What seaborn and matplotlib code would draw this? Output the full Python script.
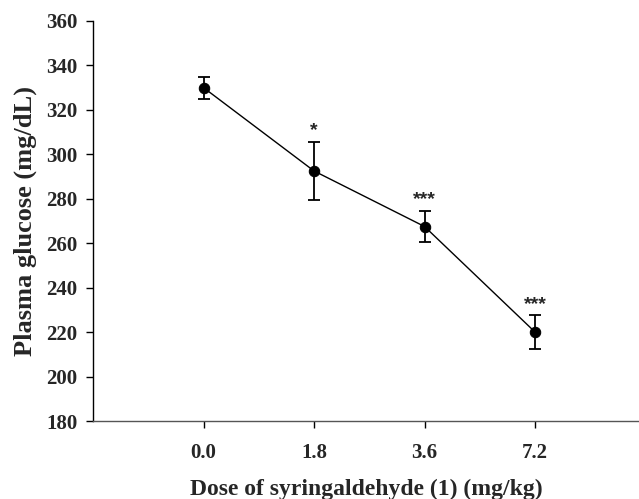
import numpy as np
import pandas as pd
import matplotlib
matplotlib.use("Agg")
import matplotlib.pyplot as plt
import seaborn as sns

# data
doses = ["0.0", "1.8", "3.6", "7.2"]
glucose_mean = [330.0, 292.5, 267.5, 220.0]
glucose_err = [5.0, 13.0, 7.0, 7.5]
signif = ["", "*", "***", "***"]

sns.set_theme(style="ticks")
plt.rcParams['font.family'] = ['Liberation Serif', 'DejaVu Serif']

df = pd.DataFrame({"Dose": doses, "Glucose": glucose_mean})

fig = plt.figure(figsize=(6.39, 4.99), dpi=100)
ax = fig.add_axes([0.1455, 0.1563, 0.8545, 0.8017])

pos = np.arange(len(doses))
ax.errorbar(pos, glucose_mean, yerr=glucose_err, fmt='none', ecolor='black',
            elinewidth=1.3, capsize=4, capthick=1.3, zorder=2)
sns.lineplot(data=df, x=pos, y="Glucose", ax=ax, color='black', lw=1.0,
             marker='o', markersize=7.5, markeredgecolor='black', zorder=3)

for p, m, e, s in zip(pos, glucose_mean, glucose_err, signif):
    if s:
        ax.annotate(s, (p, m + e), xytext=(0, 2), textcoords='offset points',
                    ha='center', va='bottom', fontsize=14, fontweight='bold',
                    family=['Liberation Sans', 'DejaVu Sans'])

ax.set_xlim(-1, 3.94)
ax.set_ylim(180, 360)
ax.set_yticks(np.arange(180, 361, 20))
ax.set_xticks(pos)
ax.set_xticklabels(doses)

ax.set_xlabel("Dose of syringaldehyde (1) (mg/kg)", fontsize=17, fontweight='bold', labelpad=11)
ax.set_ylabel("Plasma glucose (mg/dL)", fontsize=19, fontweight='bold', labelpad=7)
for lab in ax.get_xticklabels() + ax.get_yticklabels():
    lab.set_fontweight('bold')
ax.tick_params(axis='both', labelsize=15, direction='out', length=5, width=1, color='black')
ax.tick_params(axis='x', pad=11)
ax.tick_params(axis='y', pad=6)

sns.despine(ax=ax, top=True, right=True)
ax.spines['left'].set_color('black')
ax.spines['left'].set_linewidth(1)
ax.spines['bottom'].set_color('#555555')
ax.spines['bottom'].set_linewidth(1)

fig.savefig("out.png", dpi=100, facecolor="white")
